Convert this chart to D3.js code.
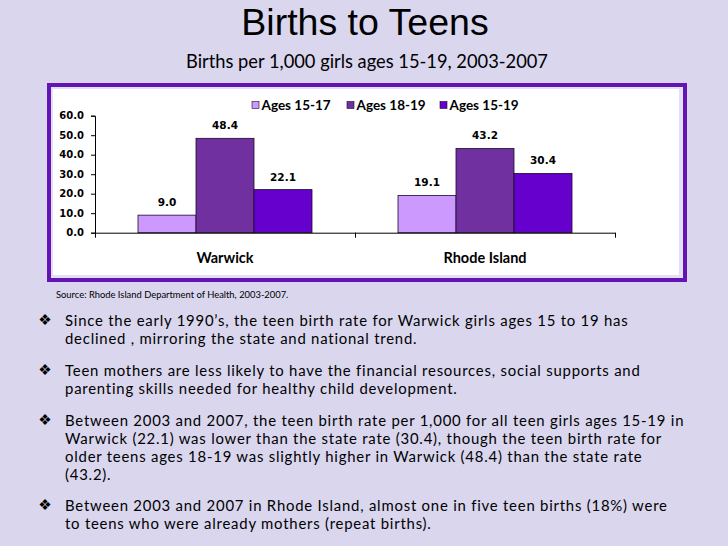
<!DOCTYPE html>
<html>
<head>
<meta charset="utf-8">
<script src="https://cdn.jsdelivr.net/npm/d3@7"></script>
<style>
  body { margin: 0; background: #d9d6ee; }
  svg { display: block; }
</style>
</head>
<body>
<div id="chart"></div>
<script>
const categories = ["Warwick", "Rhode Island"];
const series = ["Ages 15-17", "Ages 18-19", "Ages 15-19"];
const values = [
    [9.0, 48.4, 22.1],
    [19.1, 43.2, 30.4]
];
const yTicks = [0, 10, 20, 30, 40, 50, 60];
const colors = ["#cc99ff", "#7030a0", "#6600cc"];

const bullets = [
    ["Since the early 1990\u2019s, the teen birth rate for Warwick girls ages 15 to 19  has",
     "declined , mirroring the state and national trend."],
    ["Teen mothers are less likely to have the financial resources, social supports and",
     "parenting skills needed for healthy child development."],
    ["Between 2003 and 2007, the teen birth rate per 1,000 for all teen girls ages 15-19 in",
     "Warwick (22.1) was lower than the state rate (30.4), though the teen birth rate for",
     "older teens ages 18-19 was slightly higher in Warwick (48.4) than the state rate",
     "(43.2)."],
    ["Between 2003 and 2007 in Rhode Island, almost one in five teen births (18%) were",
     "to teens who were already mothers (repeat births)."]
];
const bulletTops = [320, 370, 420, 505];

const width = 728, height = 546;
const svg = d3.select("#chart").append("svg")
    .attr("width", width)
    .attr("height", height);

svg.append("rect").attr("width", width).attr("height", height).attr("fill", "#d9d6ee");

// titles
svg.append("text")
    .attr("x", 365).attr("y", 35)
    .attr("text-anchor", "middle")
    .attr("font-family", "Liberation Sans, Arial, sans-serif")
    .attr("font-size", 37.5)
    .attr("fill", "#000")
    .text("Births to Teens");

svg.append("text")
    .attr("x", 367).attr("y", 68)
    .attr("text-anchor", "middle")
    .attr("font-family", "Lato, sans-serif")
    .attr("font-size", 18.3)
    .attr("fill", "#000")
    .text("Births per 1,000 girls ages 15-19, 2003-2007");

// chart frame
svg.append("rect")
    .attr("x", 49).attr("y", 85).attr("width", 636).attr("height", 195)
    .attr("fill", "#e2e0f3")
    .attr("stroke", "#6414b4")
    .attr("stroke-width", 4);
svg.append("rect")
    .attr("x", 53).attr("y", 89).attr("width", 626).attr("height", 186)
    .attr("fill", "#fff");

const x0 = d3.scaleBand().domain(categories).range([95, 615]);
const x1 = d3.scaleBand().domain(series).range([43, 217]);
const y = d3.scaleLinear().domain([0, 60]).range([232.7, 115.7]);

const groups = svg.append("g").selectAll("g")
    .data(categories)
    .join("g")
    .attr("transform", d => `translate(${x0(d)},0)`);

groups.selectAll("rect")
    .data((d, i) => values[i].map((v, j) => ({ key: series[j], value: v, idx: j })))
    .join("rect")
    .attr("x", d => x1(d.key))
    .attr("y", d => y(d.value))
    .attr("width", x1.bandwidth())
    .attr("height", d => y(0) - y(d.value))
    .attr("fill", d => colors[d.idx])
    .attr("stroke", "#1a0a2a")
    .attr("stroke-width", 0.8);

groups.selectAll("text")
    .data((d, i) => values[i].map((v, j) => ({ key: series[j], value: v })))
    .join("text")
    .attr("x", d => x1(d.key) + x1.bandwidth() / 2)
    .attr("y", d => y(d.value) - 9)
    .attr("text-anchor", "middle")
    .attr("font-family", "DejaVu Sans, sans-serif")
    .attr("font-weight", "bold")
    .attr("font-size", 10.5)
    .text(d => d3.format(".1f")(d.value));

// y axis
const yAxis = svg.append("g")
    .attr("transform", "translate(95,0)")
    .call(d3.axisLeft(y).tickValues(yTicks).tickFormat(d3.format(".1f")).tickSize(4).tickPadding(7));
yAxis.select(".domain").attr("stroke", "#000");
yAxis.selectAll("text")
    .attr("font-family", "DejaVu Sans, sans-serif")
    .attr("font-weight", "bold")
    .attr("font-size", 10)
    .attr("fill", "#000");

// x axis with boundary ticks
const xb = d3.scaleLinear().domain([0, categories.length]).range(x0.range());
const xAxis = svg.append("g")
    .attr("transform", `translate(0,${y(0)})`)
    .call(d3.axisBottom(xb).tickValues(d3.range(categories.length + 1)).tickFormat("").tickSize(5).tickSizeOuter(0));
xAxis.select(".domain").attr("stroke", "#000");

svg.append("g").selectAll("text")
    .data(categories)
    .join("text")
    .attr("x", d => x0(d) + x0.bandwidth() / 2)
    .attr("y", 263)
    .attr("text-anchor", "middle")
    .attr("font-family", "Lato, sans-serif")
    .attr("font-weight", "bold")
    .attr("font-size", 14.5)
    .text(d => d);

// legend
const legendX = [252, 347, 440];
const legend = svg.append("g").selectAll("g")
    .data(series)
    .join("g")
    .attr("transform", (d, i) => `translate(${legendX[i]},101.5)`);
legend.append("rect")
    .attr("width", 7).attr("height", 7)
    .attr("fill", (d, i) => colors[i])
    .attr("stroke", "#1a0a2a")
    .attr("stroke-width", 0.6);
legend.append("text")
    .attr("x", 9.5).attr("y", 8)
    .attr("font-family", "Lato, sans-serif")
    .attr("font-weight", "bold")
    .attr("font-size", 13.5)
    .text(d => d);

// source
svg.append("text")
    .attr("x", 56).attr("y", 298)
    .attr("font-family", "Lato, sans-serif")
    .attr("font-size", 9.4)
    .attr("fill", "#000")
    .text("Source: Rhode Island Department of Health,  2003-2007.");

// bullets: one text per paragraph, one tspan per line
const lineH = 18;
bullets.forEach((lines, i) => {
    svg.append("text")
        .attr("x", 45).attr("y", bulletTops[i] + 5)
        .attr("text-anchor", "middle")
        .attr("font-family", "DejaVu Sans, sans-serif")
        .attr("font-size", 15)
        .text("\u2756");
    svg.append("text")
        .attr("font-family", "Lato, sans-serif")
        .attr("font-size", 14.9)
        .attr("letter-spacing", 0.78)
        .attr("fill", "#000")
        .selectAll("tspan")
        .data(lines)
        .join("tspan")
        .attr("x", 65)
        .attr("y", (d, k) => bulletTops[i] + 6 + k * lineH)
        .text(d => d);
});
</script>
</body>
</html>
